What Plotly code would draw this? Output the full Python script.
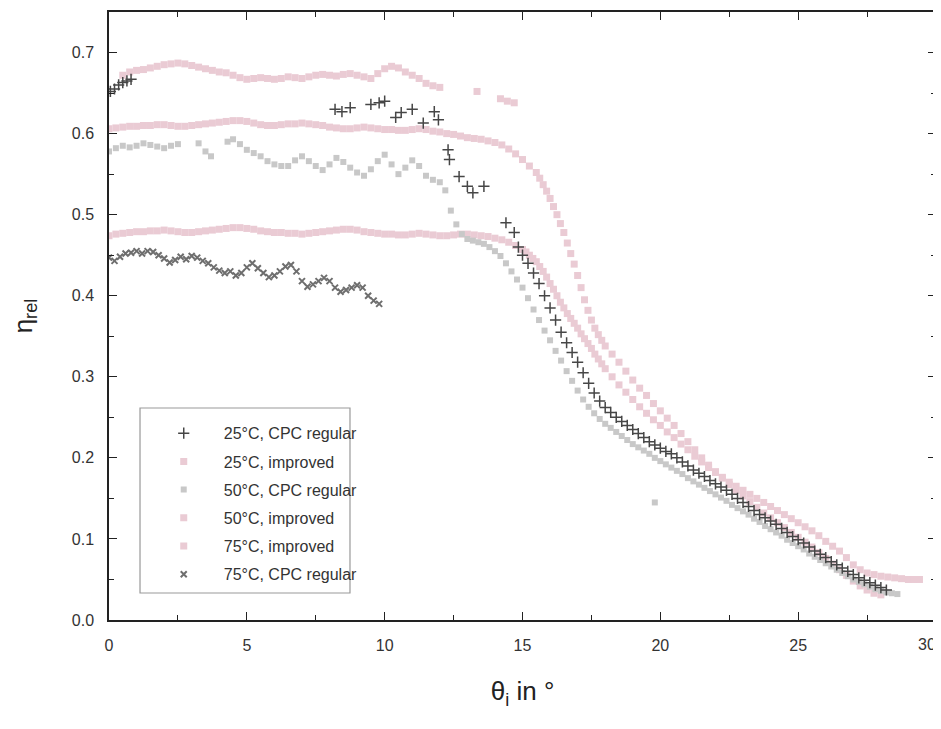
import plotly.graph_objects as go

# 25°C, CPC regular (dark "+")
x_25_reg = [0.05, 0.2, 0.35, 0.5, 0.65, 0.8,
            8.2, 8.45, 8.75, 9.5, 9.8, 10.0, 10.4, 10.6, 11.0, 11.4, 11.8, 11.95,
            12.3, 12.35, 12.7, 13.0, 13.2, 13.6, 14.4, 14.7, 14.85,
            15.0, 15.2, 15.4, 15.6, 15.8, 16.0, 16.2, 16.4, 16.6, 16.8, 17.0, 17.2, 17.4,
            17.6, 17.8, 18.0, 18.2, 18.4, 18.6, 18.8, 19.0, 19.2, 19.4, 19.6, 19.8, 20.0,
            20.2, 20.4, 20.6, 20.8, 21.0, 21.2, 21.4, 21.6, 21.8, 22.0, 22.2, 22.4, 22.6,
            22.8, 23.0, 23.2, 23.4, 23.6, 23.8, 24.0, 24.2, 24.4, 24.6, 24.8, 25.0, 25.2,
            25.4, 25.6, 25.8, 26.0, 26.2, 26.4, 26.6, 26.8, 27.0, 27.2, 27.4, 27.6, 27.8,
            28.0, 28.2]
y_25_reg = [0.652, 0.655, 0.66, 0.663, 0.665, 0.667,
            0.63, 0.627, 0.632, 0.636, 0.638, 0.64, 0.62, 0.626, 0.63, 0.613, 0.627, 0.617,
            0.58, 0.568, 0.547, 0.535, 0.527, 0.535, 0.49, 0.478, 0.46,
            0.45, 0.44, 0.428, 0.415, 0.4, 0.385, 0.37, 0.355, 0.342, 0.33, 0.318, 0.305,
            0.292, 0.28, 0.27, 0.262, 0.256, 0.25, 0.245, 0.24, 0.235, 0.23, 0.225, 0.22,
            0.216, 0.212, 0.208, 0.205, 0.2, 0.195, 0.19, 0.185, 0.181, 0.177, 0.172, 0.168,
            0.164, 0.16, 0.155, 0.15, 0.145, 0.14, 0.135, 0.13, 0.126, 0.122, 0.118, 0.113,
            0.108, 0.103, 0.099, 0.095, 0.09, 0.085, 0.081, 0.077, 0.072, 0.068, 0.064, 0.06,
            0.056, 0.052, 0.049, 0.046, 0.043, 0.04, 0.037]

# 25°C, improved (pink, top)
x_25_imp = [0.5, 0.75, 1.0, 1.25, 1.5, 1.75, 2.0, 2.25, 2.5, 2.75, 3.0, 3.25, 3.5, 3.75,
            4.0, 4.25, 4.5, 4.75, 5.0, 5.25, 5.5, 5.75, 6.0, 6.25, 6.5, 6.75, 7.0, 7.25,
            7.5, 7.75, 8.0, 8.25, 8.5, 8.75, 9.0, 9.25, 9.5, 9.75, 10.0, 10.25, 10.5, 10.75,
            11.0, 11.25, 11.5, 11.75, 12.0, 13.35, 14.2, 14.45, 14.7]
y_25_imp = [0.672, 0.676, 0.678, 0.679, 0.681, 0.683, 0.685, 0.686, 0.687, 0.686, 0.684, 0.682,
            0.68, 0.678, 0.676, 0.675, 0.672, 0.669, 0.667, 0.668, 0.669, 0.668, 0.667, 0.668,
            0.67, 0.669, 0.668, 0.67, 0.672, 0.673, 0.672, 0.671, 0.673, 0.674, 0.672, 0.67,
            0.668, 0.674, 0.68, 0.683, 0.681, 0.676, 0.672, 0.668, 0.662, 0.659, 0.657,
            0.652, 0.643, 0.64, 0.638]

# 50°C, CPC regular (light grey)
x_50_reg = [0.0, 0.25, 0.5, 0.75, 1.0, 1.25, 1.5, 1.75, 2.0, 2.25, 2.5,
            3.25, 3.5, 3.7, 4.3, 4.5, 4.75, 5.0, 5.25, 5.5, 5.75, 6.0, 6.25, 6.5, 6.75,
            7.0, 7.25, 7.5, 7.75, 8.0, 8.25, 8.5, 8.75, 9.0, 9.25, 9.5, 9.75, 10.0, 10.25,
            10.5, 10.75, 11.0, 11.25, 11.5, 11.75,
            12.0, 12.2, 12.4, 12.6, 12.8, 13.0, 13.2, 13.4, 13.6, 13.8, 14.0, 14.2, 14.4,
            14.6, 14.8, 15.0, 15.2, 15.4, 15.6, 15.8, 16.0, 16.2, 16.4, 16.6, 16.8, 17.0,
            17.2, 17.4, 17.6, 17.8, 18.0, 18.2, 18.4, 18.6, 18.8, 19.0, 19.2, 19.4, 19.6,
            19.8, 20.0, 20.2, 20.4, 20.6, 20.8, 21.0, 21.2, 21.4, 21.6, 21.8, 22.0, 22.2,
            22.4, 22.6, 22.8, 23.0, 23.2, 23.4, 23.6, 23.8, 24.0, 24.2, 24.4, 24.6, 24.8,
            25.0, 25.2, 25.4, 25.6, 25.8, 26.0, 26.2, 26.4, 26.6, 26.8, 27.0, 27.2, 27.4,
            27.6, 27.8, 28.0, 28.2, 28.4, 28.6, 19.8]
y_50_reg = [0.578, 0.582, 0.585, 0.583, 0.585, 0.588, 0.586, 0.584, 0.582, 0.585, 0.587,
            0.588, 0.578, 0.572, 0.59, 0.593, 0.587, 0.58, 0.576, 0.572, 0.566, 0.562, 0.56,
            0.56, 0.567, 0.572, 0.566, 0.56, 0.555, 0.562, 0.57, 0.565, 0.558, 0.552, 0.548,
            0.556, 0.566, 0.574, 0.562, 0.55, 0.558, 0.567, 0.56, 0.548, 0.543,
            0.54, 0.53, 0.505, 0.488, 0.476, 0.47, 0.468, 0.466, 0.464, 0.46, 0.455, 0.449,
            0.44, 0.43, 0.42, 0.41, 0.397, 0.383, 0.37, 0.357, 0.345, 0.332, 0.32, 0.307,
            0.295, 0.283, 0.272, 0.263, 0.255, 0.248, 0.242, 0.237, 0.232, 0.227, 0.222,
            0.217, 0.213, 0.209, 0.205, 0.2, 0.196, 0.192, 0.188, 0.184, 0.18, 0.175, 0.171,
            0.167, 0.163, 0.159, 0.155, 0.151, 0.147, 0.142, 0.138, 0.134, 0.13, 0.125, 0.121,
            0.116, 0.112, 0.108, 0.104, 0.099, 0.095, 0.091, 0.087, 0.082, 0.078, 0.074, 0.07,
            0.066, 0.062, 0.058, 0.054, 0.05, 0.047, 0.044, 0.041, 0.038, 0.036, 0.034, 0.033,
            0.032, 0.145]

# 50°C, improved (pink, 0.61 plateau)
x_50_imp = [0.0, 0.25, 0.5, 0.75, 1.0, 1.25, 1.5, 1.75, 2.0, 2.25, 2.5, 2.75, 3.0, 3.25, 3.5,
            3.75, 4.0, 4.25, 4.5, 4.75, 5.0, 5.25, 5.5, 5.75, 6.0, 6.25, 6.5, 6.75, 7.0, 7.25,
            7.5, 7.75, 8.0, 8.25, 8.5, 8.75, 9.0, 9.25, 9.5, 9.75, 10.0, 10.25, 10.5, 10.75,
            11.0, 11.25, 11.5, 11.75, 12.0, 12.25, 12.5, 12.75, 13.0, 13.25, 13.5, 13.75,
            14.0, 14.25, 14.5, 14.75, 15.0, 15.25, 15.5, 15.625, 15.75, 15.875, 16.0, 16.125,
            16.25, 16.375, 16.5, 16.625, 16.75, 16.875, 17.0, 17.125, 17.25, 17.375, 17.5,
            17.625, 17.75, 17.875, 18.0, 18.25, 18.5, 18.75, 19.0, 19.25, 19.5, 19.75,
            20.0, 20.25, 20.5, 20.75, 21.0, 21.25, 21.5, 21.75, 22.0, 22.25, 22.5, 22.75,
            23.0, 23.25, 23.5, 23.75, 24.0, 24.25, 24.5, 24.75, 25.0, 25.25, 25.5, 25.75,
            26.0, 26.25, 26.5, 26.75, 27.0, 27.25, 27.5, 27.75, 28.0]
y_50_imp = [0.606, 0.607, 0.608, 0.609, 0.609, 0.61, 0.61, 0.611, 0.611, 0.61, 0.609, 0.609,
            0.61, 0.611, 0.612, 0.613, 0.614, 0.615, 0.616, 0.616, 0.615, 0.613, 0.611, 0.61,
            0.61, 0.611, 0.612, 0.612, 0.613, 0.612, 0.611, 0.61, 0.608, 0.607, 0.606, 0.606,
            0.607, 0.608, 0.607, 0.606, 0.605, 0.605, 0.604, 0.604, 0.605, 0.606, 0.605, 0.603,
            0.602, 0.6, 0.599, 0.597, 0.595, 0.594, 0.593, 0.591, 0.589, 0.586, 0.581, 0.575,
            0.568, 0.56, 0.552, 0.545, 0.537, 0.529, 0.52, 0.51, 0.5, 0.489, 0.478, 0.465,
            0.452, 0.439, 0.425, 0.41, 0.395, 0.382, 0.37, 0.36, 0.352, 0.345, 0.338,
            0.328, 0.318, 0.307, 0.296, 0.286, 0.277, 0.267, 0.258, 0.249, 0.24, 0.23,
            0.22, 0.21, 0.2, 0.191, 0.183, 0.175, 0.167, 0.16, 0.153, 0.146, 0.139, 0.132,
            0.126, 0.12, 0.114, 0.108, 0.102, 0.096, 0.09, 0.083, 0.076, 0.069, 0.062, 0.055,
            0.048, 0.042, 0.037, 0.033, 0.031]

# 75°C, improved (pink, 0.48 plateau)
x_75_imp = [0.0, 0.25, 0.5, 0.75, 1.0, 1.25, 1.5, 1.75, 2.0, 2.25, 2.5, 2.75, 3.0, 3.25, 3.5,
            3.75, 4.0, 4.25, 4.5, 4.75, 5.0, 5.25, 5.5, 5.75, 6.0, 6.25, 6.5, 6.75, 7.0, 7.25,
            7.5, 7.75, 8.0, 8.25, 8.5, 8.75, 9.0, 9.25, 9.5, 9.75, 10.0, 10.25, 10.5, 10.75,
            11.0, 11.25, 11.5, 11.75, 12.0, 12.25, 12.5, 12.75, 13.0, 13.25, 13.5, 13.75,
            14.0, 14.25, 14.5, 14.75, 15.0, 15.125, 15.25, 15.375, 15.5, 15.625, 15.75,
            15.875, 16.0, 16.125, 16.25, 16.375, 16.5, 16.625, 16.75, 16.875, 17.0, 17.125,
            17.25, 17.375, 17.5, 17.625, 17.75, 17.875, 18.0, 18.25, 18.5, 18.75, 19.0,
            19.25, 19.5, 19.75, 20.0, 20.25, 20.5, 20.75, 21.0, 21.25, 21.5, 21.75, 22.0,
            22.25, 22.5, 22.75, 23.0, 23.25, 23.5, 23.75, 24.0, 24.25, 24.5, 24.75, 25.0,
            25.25, 25.5, 25.75, 26.0, 26.25, 26.5, 26.75, 27.0, 27.25, 27.5, 27.75, 28.0,
            28.25, 28.5, 28.75, 29.0, 29.2, 29.4]
y_75_imp = [0.474, 0.476, 0.477, 0.478, 0.479, 0.479, 0.48, 0.48, 0.481, 0.48, 0.479, 0.478,
            0.478, 0.479, 0.48, 0.481, 0.482, 0.483, 0.484, 0.484, 0.483, 0.482, 0.48, 0.479,
            0.478, 0.478, 0.477, 0.477, 0.476, 0.477, 0.478, 0.479, 0.48, 0.481, 0.482, 0.482,
            0.481, 0.479, 0.478, 0.477, 0.476, 0.476, 0.475, 0.475, 0.476, 0.477, 0.476, 0.475,
            0.474, 0.474, 0.475, 0.476, 0.476, 0.475, 0.474, 0.473, 0.471, 0.469, 0.466, 0.462,
            0.457, 0.454, 0.45, 0.446, 0.442, 0.436, 0.43, 0.423, 0.415, 0.408, 0.4, 0.392,
            0.385, 0.378, 0.372, 0.366, 0.36, 0.353, 0.347, 0.341, 0.335, 0.328, 0.322, 0.316,
            0.31, 0.3, 0.29, 0.281, 0.272, 0.263, 0.255, 0.247, 0.24, 0.232, 0.225, 0.217,
            0.21, 0.202, 0.195, 0.188, 0.182, 0.176, 0.17, 0.165, 0.16, 0.155, 0.15, 0.145,
            0.14, 0.135, 0.13, 0.125, 0.12, 0.115, 0.11, 0.104, 0.097, 0.091, 0.085, 0.077,
            0.068, 0.062, 0.058, 0.056, 0.054, 0.053, 0.052, 0.051, 0.05, 0.05, 0.05]

# 75°C, CPC regular (dark "x")
x_75_reg = [0.0, 0.2, 0.4, 0.6, 0.8, 1.0, 1.2, 1.4, 1.6, 1.8, 2.0, 2.2, 2.4, 2.6, 2.8, 3.0,
            3.2, 3.4, 3.6, 3.8, 4.0, 4.2, 4.4, 4.6, 4.8, 5.0, 5.2, 5.4, 5.6, 5.8, 6.0, 6.2,
            6.4, 6.6, 6.8, 7.0, 7.2, 7.4, 7.6, 7.8, 8.0, 8.2, 8.4, 8.6, 8.8, 9.0, 9.2, 9.4,
            9.6, 9.8]
y_75_reg = [0.447, 0.443, 0.448, 0.452, 0.453, 0.455, 0.452, 0.455, 0.454, 0.45, 0.446, 0.441,
            0.444, 0.448, 0.445, 0.449, 0.447, 0.443, 0.44, 0.435, 0.431, 0.428, 0.43, 0.425,
            0.428, 0.435, 0.44, 0.434, 0.428, 0.423, 0.425, 0.43, 0.436, 0.438, 0.43, 0.418,
            0.411, 0.414, 0.418, 0.422, 0.418, 0.41, 0.405, 0.407, 0.41, 0.413, 0.41, 0.4,
            0.394, 0.39]

x_ticks = [0, 5, 10, 15, 20, 25, 30]
# the last label is drawn as a right-aligned annotation so it stays inside the page
x_ticktext = ["0", "5", "10", "15", "20", "25", ""]
y_ticks = [0, 0.1, 0.2, 0.3, 0.4, 0.5, 0.6, 0.7]

PINK = "rgb(234,203,212)"
LGREY = "rgb(200,200,200)"
DGREY = "rgb(70,70,70)"
FONT = "Liberation Sans, Arial"

fig = go.Figure()

# pale bands first, dark markers on top; legendrank keeps the original legend order
fig.add_trace(go.Scatter(x=x_25_imp, y=y_25_imp, mode="markers", name="25°C, improved",
                         legendrank=2, legendgroup="b",
                         marker=dict(symbol="square", size=7, color=PINK)))
fig.add_trace(go.Scatter(x=x_50_imp, y=y_50_imp, mode="markers", name="50°C, improved",
                         legendrank=4, legendgroup="d",
                         marker=dict(symbol="square", size=7, color=PINK)))
fig.add_trace(go.Scatter(x=x_75_imp, y=y_75_imp, mode="markers", name="75°C, improved",
                         legendrank=5, legendgroup="e",
                         marker=dict(symbol="square", size=7, color=PINK)))
fig.add_trace(go.Scatter(x=x_50_reg, y=y_50_reg, mode="markers", name="50°C, CPC regular",
                         legendrank=3, legendgroup="c",
                         marker=dict(symbol="square", size=6, color=LGREY)))
fig.add_trace(go.Scatter(x=x_75_reg, y=y_75_reg, mode="markers", name="75°C, CPC regular",
                         legendrank=6, legendgroup="f",
                         marker=dict(symbol="x-thin", size=6, color="rgb(110,110,110)",
                                     line=dict(width=2, color="rgb(110,110,110)"))))
fig.add_trace(go.Scatter(x=x_25_reg, y=y_25_reg, mode="markers", name="25°C, CPC regular",
                         legendrank=1, legendgroup="a",
                         marker=dict(symbol="cross-thin", size=8, color=DGREY,
                                     line=dict(width=1.5, color=DGREY))))

axis_common = dict(
    showline=True, linecolor="#222", linewidth=1.5, mirror="allticks",
    ticks="inside", ticklen=8, tickwidth=1.2, tickcolor="#222",
    showgrid=False, zeroline=False, automargin=False, ticklabeloverflow="allow",
    tickfont=dict(family=FONT, size=16, color="#333"),
)

fig.update_xaxes(range=[0, 30], tickvals=x_ticks, ticktext=x_ticktext,
                 minor=dict(dtick=2.5, ticks="inside", ticklen=5, tickcolor="#222"),
                 title=dict(text="θ<sub>i</sub> in °", standoff=29,
                            font=dict(family=FONT, size=26, color="#222")),
                 ticklabelstandoff=10, **axis_common)
fig.update_yaxes(range=[0, 0.75], tickvals=y_ticks, tickformat=".1f",
                 minor=dict(dtick=0.05, ticks="inside", ticklen=5, tickcolor="#222"),
                 title=dict(text="η<sub>rel</sub>", standoff=43,
                            font=dict(family=FONT, size=26, color="#222")),
                 ticklabelstandoff=10, **axis_common)

fig.add_annotation(x=x_ticks[-1], xref="x", y=0, yref="paper", text="30",
                   xanchor="right", yanchor="top", yshift=-14, xshift=2, showarrow=False,
                   font=dict(family=FONT, size=16, color="#333"))

# legend frame
fig.add_shape(type="rect", xref="paper", yref="paper",
              x0=0.0375, x1=0.2914, y0=0.0444, y1=0.3487,
              line=dict(color="#999", width=1.2), fillcolor="rgba(0,0,0,0)")

# the page body adds an 8 px offset, so the figure is 8 px smaller with trimmed margins
fig.update_layout(
    width=933, height=721,
    margin=dict(l=101, r=5, t=4, b=109),
    plot_bgcolor="white", paper_bgcolor="white",
    showlegend=True,
    legend=dict(x=0.042, y=0.335, xanchor="left", yanchor="top",
                bgcolor="rgba(255,255,255,0)", borderwidth=0,
                font=dict(family=FONT, size=16, color="#333"),
                tracegroupgap=4.4, itemwidth=70),
)

fig.write_html("out.html")
